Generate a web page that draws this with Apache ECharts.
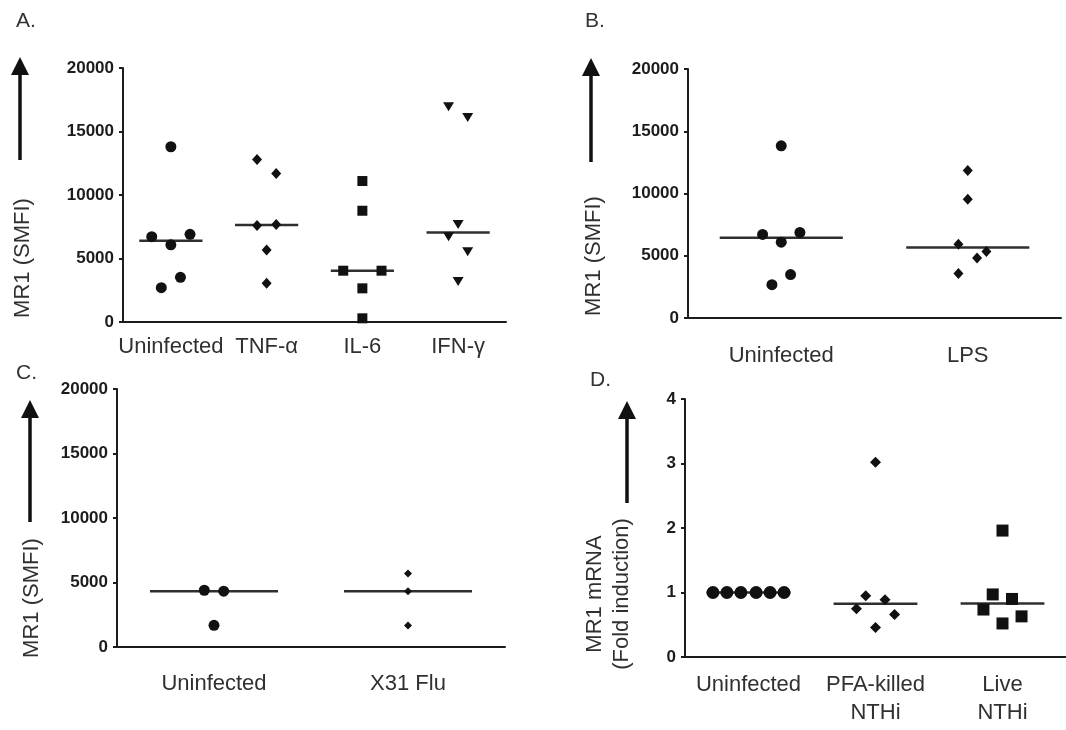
<!DOCTYPE html>
<html>
<head>
<meta charset="utf-8">
<script src="https://cdn.jsdelivr.net/npm/echarts@6/dist/echarts.min.js"></script>
<style>
  html, body { margin: 0; padding: 0; background: #fff; }
  #chart { width: 1066px; height: 730px; }
</style>
</head>
<body>
<div id="chart"></div>
<script>
// ---- Panel A: MR1 surface expression after cytokine treatment ----
const catA = ['Uninfected', 'TNF-α', 'IL-6', 'IFN-γ'];
const valA = [
  [13800, 6720, 6900, 6080, 3520, 2700],
  [12800, 11700, 7600, 7680, 5660, 3050],
  [11100, 8760, 4040, 4040, 2650, 290],
  [16950, 16100, 7680, 6720, 5540, 3180]
];
const jitA = [
  [0, -0.2, 0.2, 0, 0.1, -0.1],
  [-0.1, 0.1, -0.1, 0.1, 0, 0],
  [0, 0, -0.2, 0.2, 0, 0],
  [-0.1, 0.1, 0, -0.1, 0.1, 0]
];
const medA = [6400, 7640, 4040, 7050];

// ---- Panel B: LPS ----
const catB = ['Uninfected', 'LPS'];
const valB = [
  [13830, 6710, 6870, 6090, 3490, 2680],
  [11840, 9530, 5930, 5340, 4810, 3570]
];
const jitB = [
  [0, -0.1, 0.1, 0, 0.05, -0.05],
  [0, 0, -0.05, 0.1, 0.05, -0.05]
];
const medB = [6440, 5660];

// ---- Panel C: X31 influenza ----
const catC = ['Uninfected', 'X31 Flu'];
const valC = [
  [4400, 4330, 1680],
  [5700, 4330, 1660]
];
const jitC = [
  [-0.05, 0.05, 0],
  [0, 0, 0]
];
const medC = [4330, 4330];

// ---- Panel D: MR1 mRNA fold induction ----
const catD = ['Uninfected', 'PFA-killed\nNTHi', 'Live\nNTHi'];
const valD = [
  [1, 1, 1, 1, 1, 1],
  [3.02, 0.95, 0.886, 0.75, 0.66, 0.456],
  [1.96, 0.97, 0.90, 0.736, 0.63, 0.52]
];
const jitD = [
  [-0.28, -0.17, -0.06, 0.06, 0.17, 0.28],
  [0, -0.077, 0.075, -0.15, 0.15, 0],
  [0, -0.077, 0.075, -0.15, 0.15, 0]
];
const medD = [1, 0.824, 0.83];

// y-axis tick values
const ticksSMFI = [0, 5000, 10000, 15000, 20000];
const ticksFold = [0, 1, 2, 3, 4];

const FONT = '"Liberation Sans", Arial, Helvetica, sans-serif';
const INK = '#1c1c1c';

const panels = [
  { cats: catA, vals: valA, jit: jitA, med: medA, ticks: ticksSMFI,
    grid: { left: 123, top: 68, width: 383, height: 254 },
    labelMargin: 13, lineHeight: 24,
    symbols: [['circle', 11], ['diamond', [10, 11]], ['rect', 10], ['triangle', [11, 9]]] },
  { cats: catB, vals: valB, jit: jitB, med: medB, ticks: ticksSMFI,
    grid: { left: 688, top: 69, width: 373, height: 249 },
    labelMargin: 26, lineHeight: 24,
    symbols: [['circle', 11], ['diamond', [10, 11]]] },
  { cats: catC, vals: valC, jit: jitC, med: medC, ticks: ticksSMFI,
    grid: { left: 117, top: 389, width: 388, height: 258 },
    labelMargin: 25, lineHeight: 24,
    symbols: [['circle', 11], ['diamond', [8, 8]]] },
  { cats: catD, vals: valD, jit: jitD, med: medD, ticks: ticksFold,
    grid: { left: 685, top: 399, width: 388, height: 258 },
    labelMargin: 14, lineHeight: 28,
    symbols: [['circle', 13], ['diamond', [11, 11]], ['rect', 12]] }
];

const grids = [], xAxes = [], yAxes = [], series = [];

panels.forEach((p, gi) => {
  grids.push(p.grid);
  const n = p.cats.length;
  const step = p.ticks[1] - p.ticks[0];
  // category axis: axis line, ticks and group labels
  xAxes.push({
    type: 'category', gridIndex: gi, data: p.cats, boundaryGap: true,
    axisLine: { lineStyle: { color: INK, width: 2 } },
    axisTick: { alignWithLabel: true, length: 4, lineStyle: { color: INK, width: 2 } },
    axisLabel: { color: '#303030', fontFamily: FONT, fontSize: 22,
                 margin: p.labelMargin, lineHeight: p.lineHeight, interval: 0 },
    splitLine: { show: false }
  });
  // value axis spanning the same bands, used to place jittered points
  const vIdx = xAxes.length;
  xAxes.push({
    type: 'value', gridIndex: gi, min: -0.5, max: n - 0.5,
    show: false, splitLine: { show: false }
  });
  yAxes.push({
    type: 'value', gridIndex: gi, position: 'left',
    min: p.ticks[0], max: p.ticks[p.ticks.length - 1], interval: step,
    axisLine: { show: true, onZero: false, lineStyle: { color: INK, width: 2 } },
    axisTick: { show: true, length: 4, lineStyle: { color: INK, width: 2 } },
    axisLabel: { color: INK, fontFamily: FONT, fontSize: 17, fontWeight: 'bold', margin: 9,
                 formatter: v => String(v) },
    splitLine: { show: false }
  });

  p.vals.forEach((group, ci) => {
    const [sym, size] = p.symbols[ci];
    series.push({
      type: 'scatter', xAxisIndex: vIdx, yAxisIndex: gi,
      symbol: sym, symbolSize: size, symbolRotate: sym === 'triangle' ? 180 : 0,
      itemStyle: { color: '#111', opacity: 1 },
      z: 3,
      data: group.map((v, k) => [ci + p.jit[ci][k], v])
    });
  });

  // median bars
  series.push({
    type: 'custom', xAxisIndex: vIdx, yAxisIndex: gi, z: 2,
    data: p.med.map((m, ci) => [ci, m]),
    renderItem: (params, api) => {
      const c = api.value(0), m = api.value(1);
      const a = api.coord([c - 0.33, m]);
      const b = api.coord([c + 0.33, m]);
      return {
        type: 'line',
        shape: { x1: a[0], y1: a[1], x2: b[0], y2: b[1] },
        style: { stroke: '#2f2f2f', lineWidth: 2.5 }
      };
    }
  });
});

// upward arrows beside each y-axis title
function arrow(x, tipY, bottomY) {
  return {
    type: 'group',
    children: [
      { type: 'line', shape: { x1: x, y1: bottomY, x2: x, y2: tipY + 16 },
        style: { stroke: '#111', lineWidth: 3.5 } },
      { type: 'polygon', shape: { points: [[x - 9, tipY + 18], [x + 9, tipY + 18], [x, tipY]] },
        style: { fill: '#111' } }
    ]
  };
}
function vtext(x, y, text, lh) {
  return {
    type: 'text', x: x, y: y, rotation: Math.PI / 2,
    style: { text: text, fill: '#303030', font: '22px ' + FONT,
             align: 'center', verticalAlign: 'middle', lineHeight: lh || 27 }
  };
}
function letter(x, y, text) {
  return {
    type: 'text', x: x, y: y,
    style: { text: text, fill: '#333', font: '21px ' + FONT, align: 'left', verticalAlign: 'middle' }
  };
}

const graphics = [
  letter(16, 21, 'A.'), letter(585, 21, 'B.'), letter(16, 373, 'C.'), letter(590, 380, 'D.'),
  arrow(20, 57, 160), arrow(591, 58, 162), arrow(30, 400, 522), arrow(627, 401, 503),
  vtext(23, 258, 'MR1 (SMFI)'), vtext(594, 256, 'MR1 (SMFI)'), vtext(32, 598, 'MR1 (SMFI)'),
  vtext(608, 594, 'MR1 mRNA\n(Fold induction)', 27)
];

const chart = echarts.init(document.getElementById('chart'), null, { renderer: 'canvas' });
chart.setOption({
  animation: false,
  backgroundColor: '#fff',
  grid: grids,
  xAxis: xAxes,
  yAxis: yAxes,
  series: series,
  graphic: graphics
});
</script>
</body>
</html>
